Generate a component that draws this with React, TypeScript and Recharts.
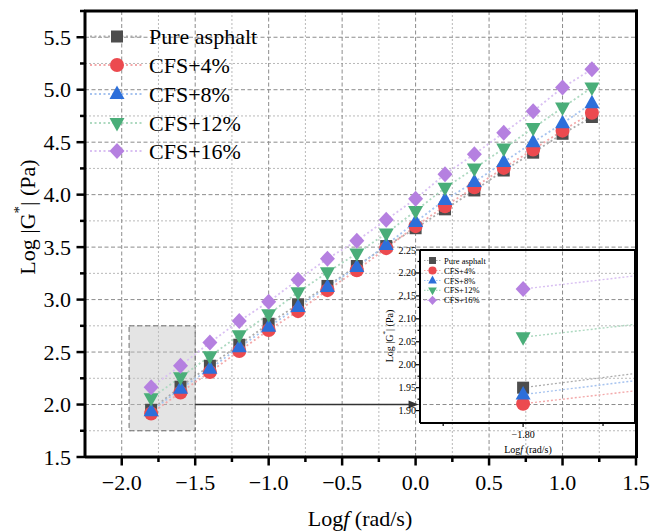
import React from "react";
import { ComposedChart, Line, XAxis, YAxis, CartesianGrid, ReferenceArea, ReferenceLine } from "recharts";

// ---- data ----
const logF = [-1.8, -1.6, -1.4, -1.2, -1.0, -0.8, -0.6, -0.4, -0.2, 0.0, 0.2, 0.4, 0.6, 0.8, 1.0, 1.2];
const pureAsphalt = [1.95, 2.17, 2.37, 2.57, 2.77, 2.955, 3.13, 3.32, 3.51, 3.68, 3.86, 4.04, 4.23, 4.4, 4.58, 4.74];
const cfs4 = [1.915, 2.115, 2.31, 2.51, 2.71, 2.89, 3.09, 3.28, 3.49, 3.7, 3.89, 4.07, 4.255, 4.43, 4.61, 4.78];
const cfs8 = [1.935, 2.15, 2.34, 2.545, 2.74, 2.93, 3.12, 3.31, 3.52, 3.74, 3.95, 4.12, 4.31, 4.5, 4.68, 4.87];
const cfs12 = [2.06, 2.26, 2.46, 2.66, 2.86, 3.07, 3.26, 3.44, 3.63, 3.845, 4.065, 4.25, 4.44, 4.635, 4.83, 5.02];
const cfs16 = [2.165, 2.37, 2.59, 2.795, 2.98, 3.19, 3.39, 3.56, 3.76, 3.96, 4.195, 4.385, 4.59, 4.795, 5.02, 5.195];

const seriesNames = ["Pure asphalt", "CFS+4%", "CFS+8%", "CFS+12%", "CFS+16%"];
const seriesKeys = ["pure", "cfs4", "cfs8", "cfs12", "cfs16"];
const seriesShapes = ["square", "circle", "up", "down", "diamond"];
const markerColors = ["#4d4d4d", "#ec4a4f", "#2d6fda", "#4aae79", "#b580e0"];
const lineColors = ["#ababab", "#f3a9aa", "#a6c3ef", "#add9c0", "#d9c0f2"];

// main axes ticks
const xTicks = [-2.0, -1.75, -1.5, -1.25, -1.0, -0.75, -0.5, -0.25, 0.0, 0.25, 0.5, 0.75, 1.0, 1.25, 1.5];
const yTicks = [1.5, 1.75, 2.0, 2.25, 2.5, 2.75, 3.0, 3.25, 3.5, 3.75, 4.0, 4.25, 4.5, 4.75, 5.0, 5.25, 5.5, 5.75];
const xMajorGrid = [-2.0, -1.5, -1.0, -0.5, 0.0, 0.5, 1.0];
const xMinorGrid = [-1.75, -1.25, -0.75, -0.25, 0.25, 0.75, 1.25];
const yMajorGrid = [2.0, 2.5, 3.0, 3.5, 4.0, 4.5, 5.0, 5.5];
const yMinorGrid = [1.75, 2.25, 2.75, 3.25, 3.75, 4.25, 4.75, 5.25];

// inset ticks
const insetXTicks = [-1.82, -1.8, -1.78];
const insetYTicks = [1.9, 1.925, 1.95, 1.975, 2.0, 2.025, 2.05, 2.075, 2.1, 2.125, 2.15, 2.175, 2.2, 2.225, 2.25];

const rows = logF.map((x, i) => ({
  x,
  pure: pureAsphalt[i],
  cfs4: cfs4[i],
  cfs8: cfs8[i],
  cfs12: cfs12[i],
  cfs16: cfs16[i],
}));

const FONT = '"Liberation Serif", "Times New Roman", Times, serif';
const W = 651;
const H = 532;

// text helper, font set through style so nothing can override it
const T = ({ children, size, style, ...rest }: any) => (
  <text {...rest} fill="#000" style={{ fontFamily: FONT, fontSize: size, ...style }}>
    {children}
  </text>
);

function Marker({ cx, cy, shape, color, s = 1 }: any) {
  if (cx == null || cy == null) return null;
  switch (shape) {
    case "square":
      return <rect x={cx - 6 * s} y={cy - 6 * s} width={12 * s} height={12 * s} fill={color} />;
    case "circle":
      return <circle cx={cx} cy={cy} r={7 * s} fill={color} />;
    case "up":
      return <polygon points={`${cx},${cy - 8.5 * s} ${cx + 7.5 * s},${cy + 5 * s} ${cx - 7.5 * s},${cy + 5 * s}`} fill={color} />;
    case "down":
      return <polygon points={`${cx},${cy + 8.5 * s} ${cx + 7.5 * s},${cy - 5 * s} ${cx - 7.5 * s},${cy - 5 * s}`} fill={color} />;
    default:
      return <polygon points={`${cx},${cy - 8 * s} ${cx + 7.5 * s},${cy} ${cx},${cy + 8 * s} ${cx - 7.5 * s},${cy}`} fill={color} />;
  }
}

const makeDot = (shape: string, color: string) => (p: any) => (
  <Marker key={`d-${shape}-${p.index}`} cx={p.cx} cy={p.cy} shape={shape} color={color} />
);

const isMult = (v: number, step: number) => Math.abs(v / step - Math.round(v / step)) < 1e-6;
const fmt = (v: number, d: number) => (v < 0 ? "\u2212" + Math.abs(v).toFixed(d) : v.toFixed(d));

const MainXTick = ({ x, y, payload }: any) => {
  const major = isMult(payload.value, 0.5);
  return (
    <g>
      <line x1={x} y1={y} x2={x} y2={y + (major ? 8.5 : 5)} stroke="#000" strokeWidth={2.5} />
      {major && (
        <T x={x} y={y + 25} textAnchor="middle" dominantBaseline="central" size={22}>
          {fmt(payload.value, 1)}
        </T>
      )}
    </g>
  );
};

const MainYTick = ({ x, y, payload }: any) => {
  const major = isMult(payload.value, 0.5);
  return (
    <g>
      <line x1={x} y1={y} x2={x - (major ? 8.5 : 5)} y2={y} stroke="#000" strokeWidth={2.5} />
      {major && (
        <T x={x - 14} y={y} textAnchor="end" dominantBaseline="central" size={22}>
          {fmt(payload.value, 1)}
        </T>
      )}
    </g>
  );
};

const InsetXTick = ({ x, y, payload }: any) => {
  const major = isMult(payload.value + 1.8, 0.04);
  return (
    <g>
      <line x1={x} y1={y} x2={x} y2={y + (major ? 4 : 3)} stroke="#000" strokeWidth={1.2} />
      {major && (
        <T x={x} y={y + 11} textAnchor="middle" dominantBaseline="central" size={10}>
          {fmt(payload.value, 2)}
        </T>
      )}
    </g>
  );
};

const InsetYTick = ({ x, y, payload }: any) => {
  const major = isMult(payload.value, 0.05);
  return (
    <g>
      <line x1={x} y1={y} x2={x - (major ? 4 : 2.5)} y2={y} stroke="#000" strokeWidth={1.2} />
      {major && (
        <T x={x - 4} y={y} textAnchor="end" dominantBaseline="central" size={10}>
          {payload.value.toFixed(2)}
        </T>
      )}
    </g>
  );
};

const Arrow = (p: any) => {
  const { x1, y1, x2, y2 } = p;
  if (x1 == null) return null;
  return (
    <g>
      <line x1={x1} y1={y1} x2={x2 - 8} y2={y2} stroke="#333" strokeWidth={1.6} />
      <polygon points={`${x2},${y2} ${x2 - 10},${y2 - 4} ${x2 - 10},${y2 + 4}`} fill="#333" />
    </g>
  );
};

export default function App() {
  const legendRows = [36.5, 65, 94, 123, 151];
  const insetLegendRows = [260.5, 270.5, 280.5, 290.4, 300.3];
  return (
    <div style={{ position: "relative", width: W, height: H, background: "#fff", fontFamily: FONT }}>
      <style>{"body{margin:0}"}</style>
      {/* main chart */}
      <div style={{ position: "absolute", left: 0, top: 0 }}>
        <ComposedChart width={W} height={H} data={rows} margin={{ top: 11, right: 15, bottom: 74, left: 84 }}>
          <CartesianGrid horizontalValues={yMinorGrid} verticalValues={xMinorGrid} stroke="#b9b9b9" strokeDasharray="2 2" />
          <CartesianGrid horizontalValues={yMajorGrid} verticalValues={xMajorGrid} stroke="#8c8c8c" strokeDasharray="4 2.5" />
          <XAxis
            dataKey="x"
            type="number"
            domain={[-2.25, 1.5]}
            ticks={xTicks}
            interval={0}
            height={1}
            tickSize={0}
            tickMargin={0}
            tickLine={false}
            tick={<MainXTick />}
            axisLine={{ stroke: "#000", strokeWidth: 3 }}
            allowDataOverflow
          />
          <YAxis
            type="number"
            domain={[1.5, 5.75]}
            ticks={yTicks}
            interval={0}
            width={1}
            tickSize={0}
            tickMargin={0}
            tickLine={false}
            tick={<MainYTick />}
            axisLine={{ stroke: "#000", strokeWidth: 3 }}
            allowDataOverflow
          />
          <ReferenceArea x1={-1.95} x2={-1.5} y1={1.75} y2={2.75} fill="#c4c4c4" fillOpacity={0.45} stroke="#6f6f6f" strokeDasharray="5 3" strokeWidth={1} />
          <ReferenceLine segment={[{ x: -1.5, y: 2.0 }, { x: 0.02, y: 2.0 }]} shape={<Arrow />} ifOverflow="visible" />
          {seriesKeys.map((k, i) => (
            <Line
              key={k}
              dataKey={k}
              stroke={lineColors[i]}
              strokeWidth={1.8}
              strokeDasharray="2 2.5"
              dot={makeDot(seriesShapes[i], markerColors[i])}
              activeDot={false}
              isAnimationActive={false}
            />
          ))}
        </ComposedChart>
      </div>

      {/* inset chart */}
      <div style={{ position: "absolute", left: 0, top: 0, pointerEvents: "none" }}>
        <ComposedChart width={W} height={H} data={rows} margin={{ top: 250, right: 16, bottom: 108, left: 419 }}>
          <XAxis
            dataKey="x"
            type="number"
            domain={[-1.8258, -1.772]}
            ticks={insetXTicks}
            interval={0}
            height={1}
            tickSize={0}
            tickMargin={0}
            tickLine={false}
            tick={<InsetXTick />}
            axisLine={{ stroke: "#000", strokeWidth: 2 }}
            allowDataOverflow
          />
          <YAxis
            type="number"
            domain={[1.873, 2.25]}
            ticks={insetYTicks}
            interval={0}
            width={1}
            tickSize={0}
            tickMargin={0}
            tickLine={false}
            tick={<InsetYTick />}
            axisLine={{ stroke: "#000", strokeWidth: 2 }}
            allowDataOverflow
          />
          {seriesKeys.map((k, i) => (
            <Line
              key={k}
              dataKey={k}
              stroke={lineColors[i]}
              strokeWidth={1.4}
              strokeDasharray="2 2"
              dot={makeDot(seriesShapes[i], markerColors[i])}
              activeDot={false}
              isAnimationActive={false}
            />
          ))}
        </ComposedChart>
      </div>

      {/* frames, titles and legends */}
      <svg width={W} height={H} style={{ position: "absolute", left: 0, top: 0, pointerEvents: "none" }}>
        <line x1={84} y1={11} x2={637.5} y2={11} stroke="#000" strokeWidth={3} />
        <line x1={636.5} y1={9.5} x2={636.5} y2={458} stroke="#000" strokeWidth={3} />
        <line x1={420} y1={250} x2={636} y2={250} stroke="#000" strokeWidth={2} />
        <line x1={635} y1={250} x2={635} y2={423} stroke="#000" strokeWidth={2} />

        <T x={360} y={518} textAnchor="middle" dominantBaseline="central" size={22}>
          Log<tspan fontStyle="italic">f</tspan> (rad/s)
        </T>
        <T transform="translate(27,217) rotate(-90)" textAnchor="middle" dominantBaseline="central" size={22}>
          Log |G<tspan dy={-8} fontSize={15}>*</tspan>
          <tspan dy={8}>| (Pa)</tspan>
        </T>

        <T x={528} y={449} textAnchor="middle" dominantBaseline="central" size={10}>
          Log<tspan fontStyle="italic">f</tspan> (rad/s)
        </T>
        <T transform="translate(389,336) rotate(-90)" textAnchor="middle" dominantBaseline="central" size={10}>
          Log |G<tspan dy={-4} fontSize={7}>*</tspan>
          <tspan dy={4}>| (Pa)</tspan>
        </T>

        {seriesNames.map((name, i) => (
          <g key={name}>
            <line x1={90} y1={legendRows[i]} x2={142} y2={legendRows[i]} stroke={lineColors[i]} strokeWidth={1.8} strokeDasharray="2 2.5" />
            <Marker cx={117} cy={legendRows[i]} shape={seriesShapes[i]} color={markerColors[i]} />
            <T x={149} y={legendRows[i]} dominantBaseline="central" size={22}>
              {name}
            </T>
          </g>
        ))}

        {seriesNames.map((name, i) => (
          <g key={"in-" + name}>
            <line x1={424} y1={insetLegendRows[i]} x2={441} y2={insetLegendRows[i]} stroke={lineColors[i]} strokeWidth={1.2} strokeDasharray="1.5 1.5" />
            <Marker cx={432.5} cy={insetLegendRows[i]} shape={seriesShapes[i]} color={markerColors[i]} s={0.58} />
            <T x={444} y={insetLegendRows[i]} dominantBaseline="central" size={8.5}>
              {name}
            </T>
          </g>
        ))}
      </svg>
    </div>
  );
}
